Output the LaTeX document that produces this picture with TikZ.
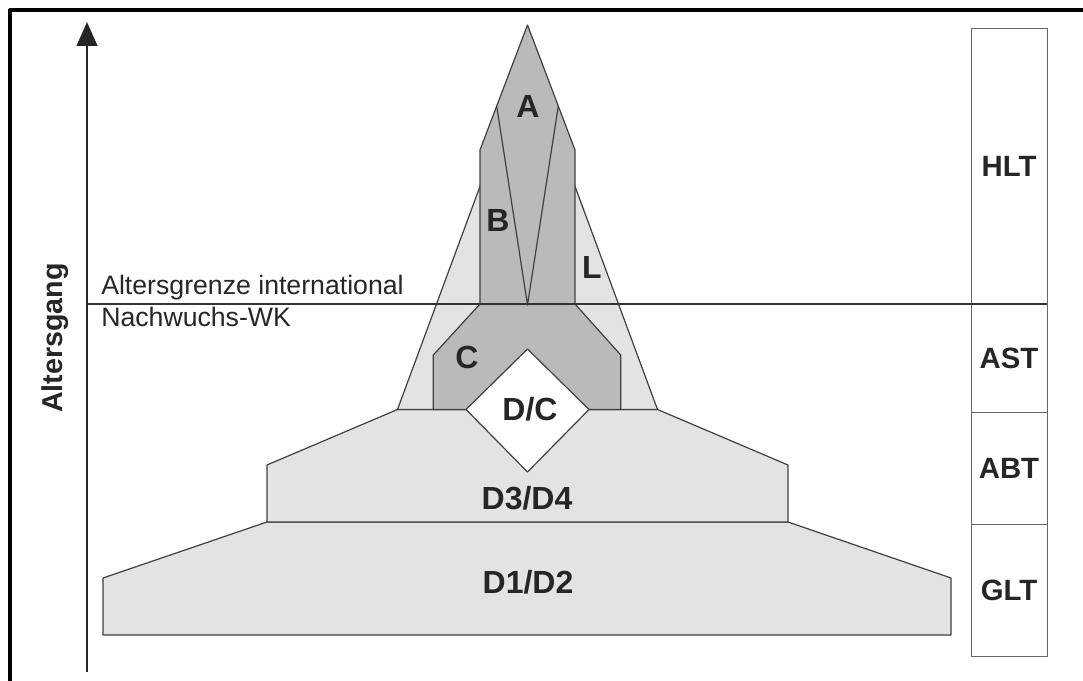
\documentclass[tikz,border=0pt]{standalone}
\usepackage{fontspec}
\setmainfont{Liberation Sans}
\usetikzlibrary{arrows.meta,positioning}

\begin{document}
\begin{tikzpicture}[x=0.75pt, y=-0.75pt, line join=round,
    outline/.style={draw=black!75, line width=0.9pt},
    lightzone/.style={outline, fill=black!11},
    darkzone/.style={outline, fill=black!27},
    zonelabel/.style={font=\fontsize{24}{28}\selectfont\bfseries, text=black!85, inner sep=0pt},
    cell/.style={draw=black!60, line width=0.6pt, minimum width=57pt, outer sep=0pt,
        font=\fontsize{22}{26}\selectfont\bfseries, text=black!85},
    note/.style={font=\fontsize{20}{24}\selectfont, text=black!85, inner sep=0pt, anchor=base west}]
    \useasboundingbox (0,0) rectangle (1083,681);

    % Rahmen
    \draw[line width=2.4pt] (10,681) -- (10,10) -- (1083,10);

    % Punkte der Pyramide
    \coordinate (apex) at (527.5,25);
    \coordinate (Lapex) at (527.5,58);
    \coordinate (Dl) at (466,409.5);
    \coordinate (Dr) at (589,409.5);
    \coordinate (Dt) at (527.5,349);
    \coordinate (Db) at (527.5,472);

    % 1. Stufen D1/D2 und D3/D4
    \fill[lightzone] (103,635) -- (103,578) -- (267,522) -- (788,522) -- (951,578) -- (951,635) -- cycle;
    \fill[lightzone] (267,522) -- (267,465) -- (397.5,409.5) -- (657.5,409.5) -- (788,465) -- (788,522) -- cycle;

    % 2. Dreieck L
    \fill[lightzone] (Lapex) -- (397.5,409.5) -- (657.5,409.5) -- cycle;

    % 3. Spitze A/B und Bereich C
    \fill[darkzone] (apex) -- (480,150) -- (480,304) -- (575,304) -- (575,150) -- cycle;
    \fill[darkzone] (433.3,409.5) -- (433.3,355) -- (480,304) -- (575,304) -- (620.7,355) -- (620.7,409.5) -- cycle;
    \draw[outline] (496.7,106) -- (527.5,305) -- (558.3,106);

    % 4. Raute D/C
    \filldraw[outline, fill=white] (Dt) -- (Dr) -- (Db) -- (Dl) -- cycle;

    % 5. Achse
    \coordinate (axisfoot) at (87,672);
    \coordinate (axistip) at (87,22);
    \draw[line width=1.7pt, black!85, -{Triangle[length=18pt, width=15.5pt]}] (axisfoot) -- (axistip);
    \node[font=\fontsize{21.5}{25}\selectfont\bfseries, text=black!85, rotate=90, inner sep=0pt] (age) at (55,338) {Altersgang};

    % 6. Spalte rechts
    \node[cell, minimum height=207pt] (hlt) at (1009,166) {HLT};
    \node[cell, minimum height=81pt, below=0pt of hlt] (ast) {AST};
    \node[cell, minimum height=84pt, below=0pt of ast] (abt) {ABT};
    \node[cell, minimum height=99pt, below=0pt of abt] (glt) {GLT};

    % 7. Altersgrenze
    \coordinate (limitstart) at (87,304);
    \draw[black!80, line width=0.9pt] (limitstart) -- (hlt.south east);
    \node[note] (limit) at (101,295) {Altersgrenze international};
    \node[note] (junior) at (101,326.7) {Nachwuchs-WK};

    % 8. Beschriftung
    \node[zonelabel] (A) at (528,106) {A};
    \node[zonelabel] (B) at (498,220) {B};
    \node[zonelabel] (L) at (592,267) {L};
    \node[zonelabel] (C) at (467,357) {C};
    \node[zonelabel] (DC) at (530,409) {D/C};
    \node[zonelabel] (D34) at (527,498) {D3/D4};
    \node[zonelabel] (D12) at (528,582) {D1/D2};
\end{tikzpicture}
\end{document}
